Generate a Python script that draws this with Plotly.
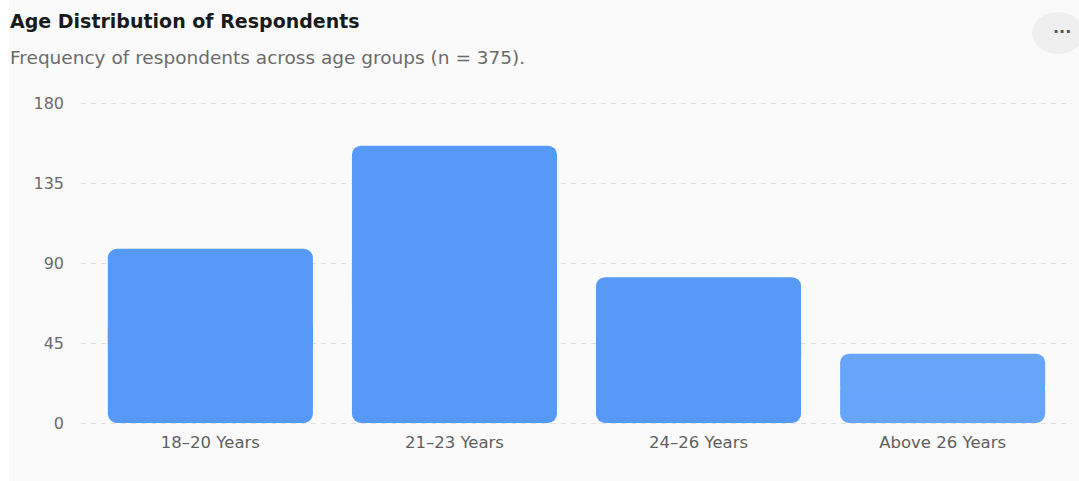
import plotly.graph_objects as go

# Respondent counts by age group (n = 375)
age_groups = ["18–20 Years", "21–23 Years", "24–26 Years", "Above 26 Years"]
counts = [98, 156, 82, 39]
bar_colors = ["#5699f6", "#5699f6", "#5699f6", "#66a5f8"]
y_ticks = [0, 45, 90, 135, 180]

FONT = "DejaVu Sans"

# Layout geometry in pixels
W, H = 1079, 481
L, R, T, B = 81, 7, 101, 56
pw, ph = W - L - R, H - T - B
# value axis: 0 sits at y = 423 px and 180 at y = 103 px
unit = 320 / 180
pad = 2 / unit


def px_x(x):
    return (x - L) / pw


def px_y(y):
    return (H - B - y) / ph


fig = go.Figure()

# Each bar is drawn as two overlapping pieces so that both ends get rounded
# corners: the lower piece grows downward to zero, the upper one upward to the value.
fig.add_trace(go.Bar(
    x=age_groups,
    y=[-0.6 * c for c in counts],
    base=[0.6 * c for c in counts],
    marker=dict(color=bar_colors, cornerradius=9, line=dict(width=0)),
    hoverinfo="skip",
    showlegend=False,
))
fig.add_trace(go.Bar(
    x=age_groups,
    y=[0.6 * c for c in counts],
    base=[0.4 * c for c in counts],
    marker=dict(color=bar_colors, cornerradius=9, line=dict(width=0)),
    customdata=counts,
    hovertemplate="%{x}: %{customdata}<extra></extra>",
    showlegend=False,
))

shapes = [
    # page strip left of the card
    dict(type="rect", xref="paper", yref="paper",
         x0=px_x(-5), x1=px_x(9), y0=px_y(H + 5), y1=px_y(-5),
         fillcolor="#ffffff", line=dict(width=0), layer="below"),
    # menu button
    dict(type="circle", xref="paper", yref="paper",
         x0=px_x(1032), x1=px_x(1084), y0=px_y(54), y1=px_y(12),
         fillcolor="#efefef", line=dict(width=0), layer="below"),
]

annotations = [
    dict(text="<b>Age Distribution of Respondents</b>", xref="paper", yref="paper",
         x=px_x(8), y=px_y(21), xanchor="left", yanchor="middle", showarrow=False,
         font=dict(family=FONT, size=19, color="#1a1a1a")),
    dict(text="Frequency of respondents across age groups (n = 375).", xref="paper", yref="paper",
         x=px_x(8), y=px_y(57), xanchor="left", yanchor="middle", showarrow=False,
         font=dict(family=FONT, size=18.5, color="#6b6b6b")),
    dict(text="<b>···</b>", xref="paper", yref="paper",
         x=px_x(1062), y=px_y(32), xanchor="center", yanchor="middle", showarrow=False,
         font=dict(family=FONT, size=16, color="#555555")),
]

fig.update_layout(
    width=W, height=H,
    margin=dict(l=L, r=R, t=T, b=B, pad=0),
    paper_bgcolor="#fafafa",
    plot_bgcolor="#fafafa",
    barmode="overlay",
    bargap=0.16,
    font=dict(family=FONT, size=16, color="#666666"),
    shapes=shapes,
    annotations=annotations,
    xaxis=dict(
        range=[-0.53, 3.53],
        showgrid=False, showline=False, zeroline=False, ticks="",
        tickfont=dict(family=FONT, size=16.5, color="#5f5f5f"),
        ticklabelstandoff=5,
    ),
    yaxis=dict(
        range=[-pad, 180 + pad],
        tickvals=y_ticks,
        showgrid=True, gridcolor="#e0e0e0", gridwidth=1, griddash="5px,5px",
        zeroline=False, showline=False, ticks="",
        tickfont=dict(family=FONT, size=16, color="#6b6b6b"),
        ticklabelstandoff=16,
    ),
)

fig.write_html("out.html")
